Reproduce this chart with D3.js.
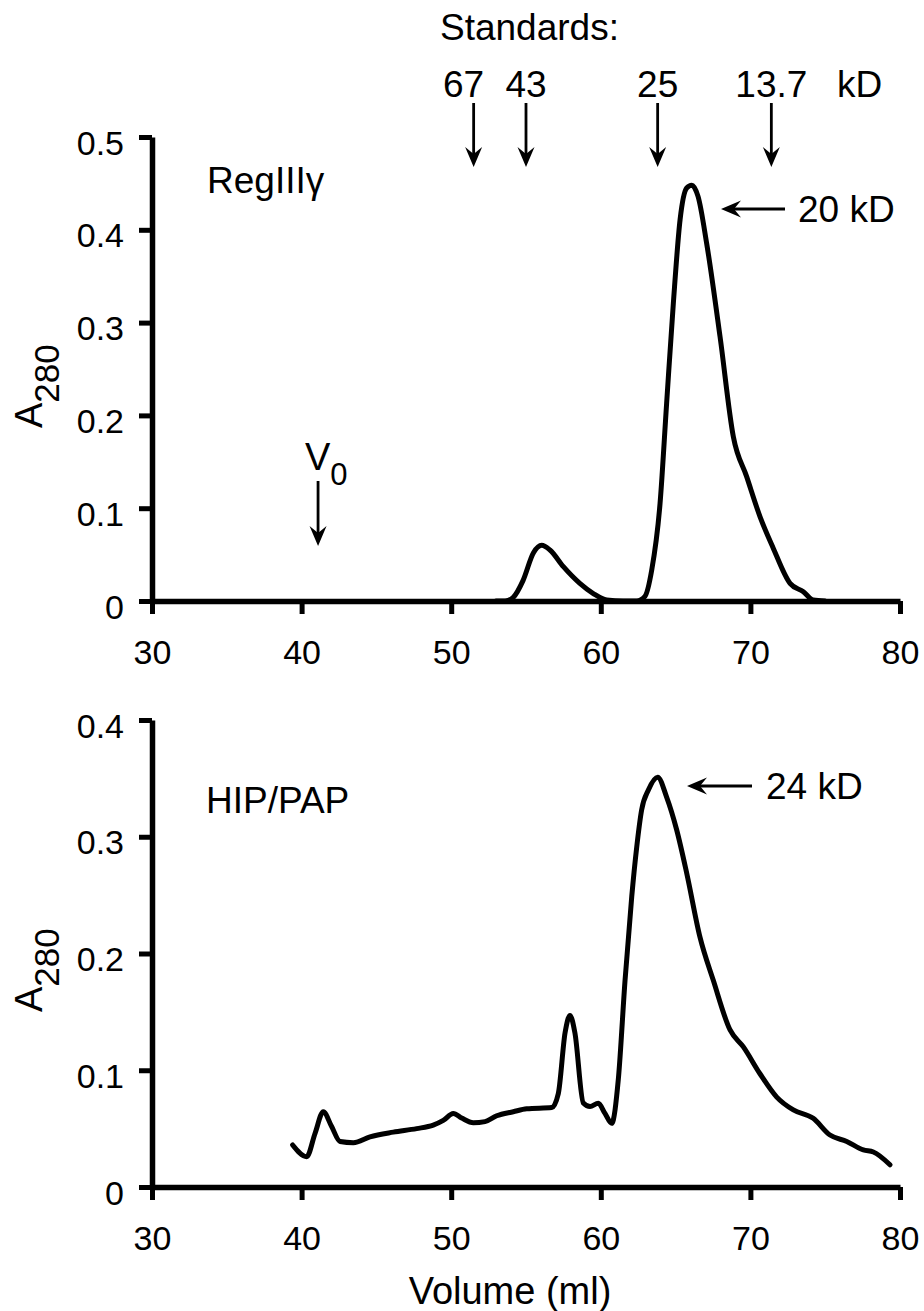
<!DOCTYPE html>
<html>
<head>
<meta charset="utf-8">
<script src="https://cdn.jsdelivr.net/npm/d3@7"></script>
<style>
  body { margin: 0; background: #fff; }
  text { font-family: "Liberation Sans", Arial, Helvetica, sans-serif; fill: #000; }
</style>
</head>
<body>
<svg id="chart" width="924" height="1311"></svg>
<script>
// --- data ---
const xTicks = [30, 40, 50, 60, 70, 80];
const topYTicks = [0, 0.1, 0.2, 0.3, 0.4, 0.5];
const bottomYTicks = [0, 0.1, 0.2, 0.3, 0.4];

// RegIIIγ trace: volume (ml), A280
const regVol = [53.0, 53.6, 54.15, 54.8, 55.5, 56.05, 56.6, 57.5, 58.6, 59.5, 60.4, 61.5, 62.4, 62.95, 63.4, 63.96, 64.4, 64.85, 65.3, 65.74, 66.08, 66.5, 67.08, 67.97, 68.86, 69.75, 70.64, 71.5, 72.65, 73.54, 74.2, 75.0];
const regA = [0, 0, 0.004, 0.022, 0.052, 0.060, 0.055, 0.037, 0.019, 0.008, 0.001, 0, 0, 0.005, 0.033, 0.105, 0.213, 0.321, 0.411, 0.445, 0.448, 0.436, 0.385, 0.285, 0.177, 0.134, 0.091, 0.058, 0.019, 0.010, 0.001, 0];

// HIP/PAP trace
const hipVol = [39.4, 40.34, 40.9, 41.45, 42.0, 42.57, 43.46, 44.57, 46.13, 47.69, 48.8, 49.47, 50.14, 50.7, 51.48, 52.26, 53.04, 54.15, 55.05, 56.72, 57.16, 57.61, 57.94, 58.27, 58.83, 59.28, 59.83, 60.28, 60.73, 61.17, 61.62, 62.07, 62.4, 62.73, 63.18, 63.8, 64.4, 65.07, 65.74, 66.63, 67.52, 68.64, 69.53, 70.64, 71.76, 72.87, 74.2, 75.32, 76.44, 77.55, 78.22, 79.33];
const hipA = [0.036, 0.026, 0.046, 0.0645, 0.052, 0.039, 0.038, 0.043, 0.047, 0.050, 0.053, 0.057, 0.063, 0.059, 0.055, 0.056, 0.061, 0.0645, 0.067, 0.068, 0.080, 0.132, 0.147, 0.132, 0.072, 0.069, 0.0717, 0.063, 0.0545, 0.092, 0.177, 0.249, 0.291, 0.323, 0.340, 0.351, 0.334, 0.306, 0.269, 0.214, 0.177, 0.1345, 0.120, 0.097, 0.077, 0.066, 0.0588, 0.0445, 0.039, 0.0317, 0.030, 0.019];

// molecular weight standards (elution volume, label)
const stdVol = [51.5, 55.0, 63.8, 71.4];
const stdLabels = ['67', '43', '25', '13.7'];
const voidVol = 41.1;

const svg = d3.select('#chart');

const x = d3.scaleLinear().domain([30, 80]).range([152, 900]);
const yTop = d3.scaleLinear().domain([0, 0.5]).range([601, 137]);
const yBot = d3.scaleLinear().domain([0, 0.4]).range([1187, 720]);

const fmt = d => d === 0 ? '0' : d3.format('.1f')(d);

function drawAxes(y, yTicks) {
    const gx = svg.append('g')
        .attr('transform', `translate(0,${y(0)})`)
        .call(d3.axisBottom(x).tickValues(xTicks).tickSize(13).tickSizeOuter(0).tickPadding(26));
    const gy = svg.append('g')
        .attr('transform', `translate(${x(30)},0)`)
        .call(d3.axisLeft(y).tickValues(yTicks).tickFormat(fmt).tickSize(13).tickSizeOuter(0).tickPadding(15));
    [gx, gy].forEach(g => {
        g.selectAll('path.domain').attr('stroke', '#000').attr('stroke-width', 5.5);
        g.selectAll('line').attr('stroke', '#000').attr('stroke-width', 5);
        g.selectAll('text').attr('font-size', 34).attr('font-family', '"Liberation Sans", Arial, sans-serif').attr('fill', '#000');
    });
    gy.selectAll('text').attr('dy', '0.5em');
}

function drawTrace(y, vols, vals) {
    const line = d3.line()
        .x((d, i) => x(vols[i]))
        .y(d => y(d))
        .curve(d3.curveMonotoneX);
    svg.append('path')
        .attr('d', line(vals))
        .attr('fill', 'none')
        .attr('stroke', '#000')
        .attr('stroke-width', 5)
        .attr('stroke-linejoin', 'round')
        .attr('stroke-linecap', 'round');
}

function downArrow(px, y1, y2) {
    svg.append('line').attr('x1', px).attr('x2', px).attr('y1', y1).attr('y2', y2 - 10)
        .attr('stroke', '#000').attr('stroke-width', 2.8);
    svg.append('path')
        .attr('d', `M${px},${y2} L${px - 8.5},${y2 - 20} L${px},${y2 - 13} L${px + 8.5},${y2 - 20} Z`)
        .attr('fill', '#000');
}

function leftArrow(x1, x2, py) {
    svg.append('line').attr('x1', x1 + 10).attr('x2', x2).attr('y1', py).attr('y2', py)
        .attr('stroke', '#000').attr('stroke-width', 2.8);
    svg.append('path')
        .attr('d', `M${x1},${py} L${x1 + 20},${py - 8.5} L${x1 + 13},${py} L${x1 + 20},${py + 8.5} Z`)
        .attr('fill', '#000');
}

function yLabel(cx, startY) {
    const t = svg.append('text')
        .attr('transform', `translate(${cx},${startY}) rotate(-90)`)
        .attr('font-size', 38);
    t.append('tspan').text('A');
    t.append('tspan').attr('font-size', 35).attr('dy', 17).text('280');
}

// ---- top panel ----
drawAxes(yTop, topYTicks);
drawTrace(yTop, regVol, regA);
yLabel(42, 428);

svg.append('text').attr('x', 440).attr('y', 40).attr('font-size', 37).text('Standards:');
stdVol.forEach((v, i) => {
    svg.append('text').attr('x', x(v) - (i === 0 ? 10 : 0)).attr('y', 97).attr('text-anchor', 'middle')
        .attr('font-size', 37).text(stdLabels[i]);
    downArrow(x(v), 103, 167);
});
svg.append('text').attr('x', 837).attr('y', 97).attr('font-size', 37).text('kD');

svg.append('text').attr('x', 207).attr('y', 193).attr('font-size', 37).text('RegIIIγ');

leftArrow(721, 785, 209);
svg.append('text').attr('x', 798).attr('y', 222).attr('font-size', 37).text('20 kD');

// void volume
const v0 = svg.append('text').attr('x', 305).attr('y', 470).attr('font-size', 38);
v0.append('tspan').text('V');
v0.append('tspan').attr('font-size', 31).attr('dy', 15).text('0');
downArrow(x(voidVol), 481, 546);

// ---- bottom panel ----
drawAxes(yBot, bottomYTicks);
drawTrace(yBot, hipVol, hipA);
yLabel(42, 1012);

svg.append('text').attr('x', 206).attr('y', 813).attr('font-size', 37).text('HIP/PAP');
leftArrow(687, 752, 786);
svg.append('text').attr('x', 766).attr('y', 799).attr('font-size', 37).text('24 kD');

svg.append('text').attr('x', 510).attr('y', 1304).attr('text-anchor', 'middle')
    .attr('font-size', 38).text('Volume (ml)');
</script>
</body>
</html>
